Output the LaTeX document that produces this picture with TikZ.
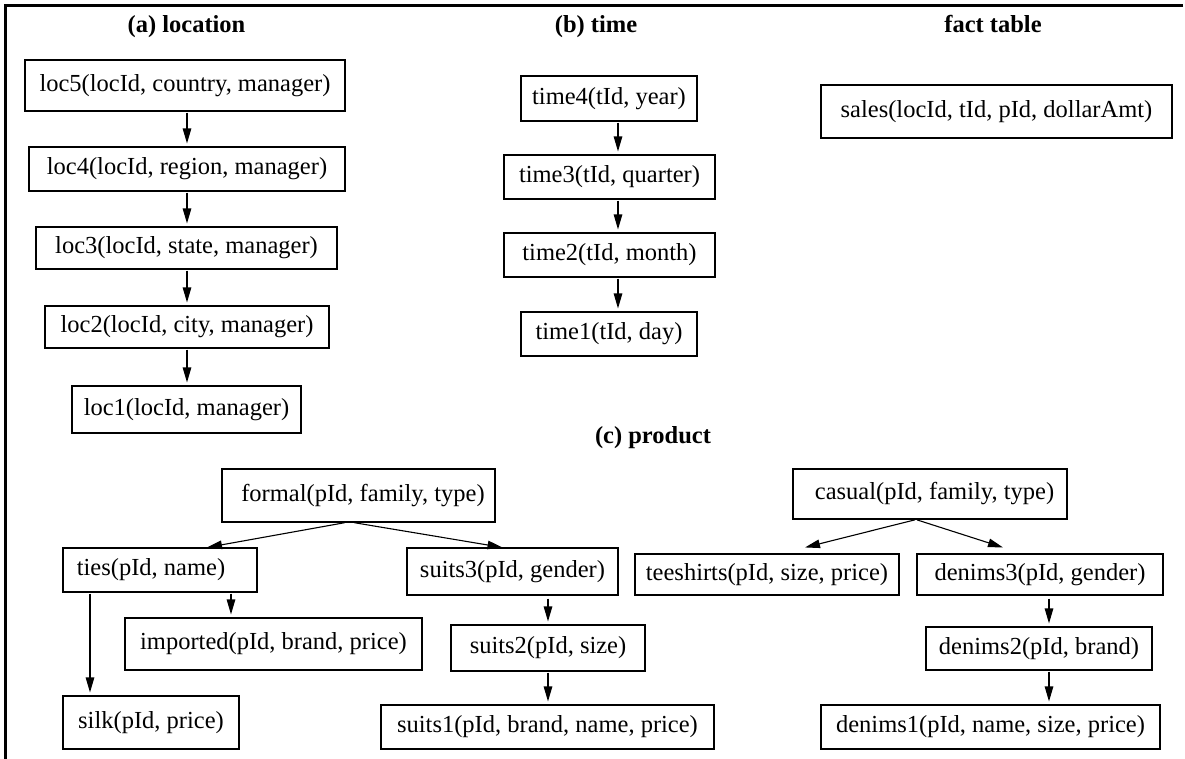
\documentclass[tikz,border=0pt]{standalone}
\usepackage{fontspec}
\setmainfont{Liberation Serif}
\usetikzlibrary{arrows.meta}
\newcommand\SchemaBox[6]{\node[box, minimum width={#3-#2}, minimum height={#5-#4}] (#1) at ({(#2+#3)/2},{(#4+#5)/2}) {#6};}
\begin{document}
\begin{tikzpicture}[x=1pt,y=-1pt,
  box/.style={draw=black, line width=1.1pt, inner sep=0pt, font=\fontsize{24.5}{29}\selectfont},
  ttl/.style={inner sep=0pt, anchor=base, font=\fontsize{24.5}{29}\selectfont\bfseries},
  arr/.style={line width=1.1pt, -{Triangle[length=15pt,width=8.5pt]}, shorten >=3pt, shorten <=1pt},
  frame/.style={line width=3pt}]
\useasboundingbox (0,0) rectangle (1185,758);
% frame
\coordinate (fa) at (1183,5.5);
\coordinate (fb) at (5.5,5.5);
\coordinate (fc) at (5.5,760);
\draw[frame] (fa) -- (fb) -- (fc);
% titles
\node[ttl] (ta) at (186.5,32) {(a) location};
\node[ttl] (tb) at (596,32) {(b) time};
\node[ttl] (tf) at (993,32) {fact table};
\node[ttl] (tc) at (653,443) {(c) product};
% location
\SchemaBox{loc5}{25}{345}{60}{111}{loc5(locId, country, manager)}
\SchemaBox{loc4}{29}{345}{147}{191}{loc4(locId, region, manager)}
\SchemaBox{loc3}{36}{337}{227}{269}{loc3(locId, state, manager)}
\SchemaBox{loc2}{45}{329}{306}{348}{loc2(locId, city, manager)}
\SchemaBox{loc1}{72}{301}{386}{433}{loc1(locId, manager)}
% time
\SchemaBox{time4}{521}{697}{76}{121}{time4(tId, year)}
\SchemaBox{time3}{504}{715}{155}{199}{time3(tId, quarter)}
\SchemaBox{time2}{504}{715}{233}{277}{time2(tId, month)}
\SchemaBox{time1}{521}{697}{312}{356}{time1(tId, day)}
% fact
\SchemaBox{sales}{821}{1172}{85}{138}{sales(locId, tId, pId, dollarAmt)}
% product
\SchemaBox{formal}{222}{495}{469}{522}{\hspace*{9pt}formal(pId, family, type)}
\SchemaBox{ties}{63}{257}{548}{592}{ties(pId, name)\hspace*{18pt}}
\SchemaBox{suits3}{407}{618}{548}{595}{suits3(pId, gender)}
\SchemaBox{imported}{125}{422}{618}{670}{imported(pId, brand, price)}
\SchemaBox{silk}{63}{239}{696}{749}{silk(pId, price)}
\SchemaBox{suits2}{451}{645}{625}{671}{suits2(pId, size)}
\SchemaBox{suits1}{381}{714}{705}{749}{suits1(pId, brand, name, price)}
\SchemaBox{casual}{793}{1067}{469}{519}{\hspace*{9pt}casual(pId, family, type)}
\SchemaBox{tees}{635}{899}{554}{595}{teeshirts(pId, size, price)}
\SchemaBox{denims3}{917}{1163}{554}{595}{denims3(pId, gender)}
\SchemaBox{denims2}{926}{1152}{627}{670}{denims2(pId, brand)}
\SchemaBox{denims1}{821}{1160}{705}{749}{denims1(pId, name, size, price)}
% arrow columns
\coordinate (lx) at (187,0);
\coordinate (tx) at (618,0);
\coordinate (ix) at (231,0);
\coordinate (sx) at (90,0);
\coordinate (ux) at (548,0);
\coordinate (dx) at (1049,0);
% location arrows
\draw[arr] (loc5.south -| lx) -- (loc4.north -| lx);
\draw[arr] (loc4.south -| lx) -- (loc3.north -| lx);
\draw[arr] (loc3.south -| lx) -- (loc2.north -| lx);
\draw[arr] (loc2.south -| lx) -- (loc1.north -| lx);
% time arrows
\draw[arr] (time4.south -| tx) -- (time3.north -| tx);
\draw[arr] (time3.south -| tx) -- (time2.north -| tx);
\draw[arr] (time2.south -| tx) -- (time1.north -| tx);
% product arrows
\draw[arr, shorten >=0pt] ([xshift=-13pt]formal.south) -- ([xshift=47pt]ties.north);
\draw[arr, shorten >=0pt] ([xshift=-5pt]formal.south) -- ([xshift=-10pt]suits3.north);
\draw[arr] (ties.south -| ix) -- (imported.north -| ix);
\draw[arr] (ties.south -| sx) -- (silk.north -| sx);
\draw[arr, shorten <=3pt] (suits3.south -| ux) -- (suits2.north -| ux);
\draw[arr] (suits2.south -| ux) -- (suits1.north -| ux);
\draw[arr, shorten >=0pt] ([xshift=-14pt]casual.south) -- ([xshift=38pt,yshift=6pt]tees.north);
\draw[arr, shorten >=0pt] ([xshift=-14pt]casual.south) -- ([xshift=-37pt,yshift=6pt]denims3.north);
\draw[arr, shorten <=3pt] (denims3.south -| dx) -- (denims2.north -| dx);
\draw[arr] (denims2.south -| dx) -- (denims1.north -| dx);
\end{tikzpicture}
\end{document}
